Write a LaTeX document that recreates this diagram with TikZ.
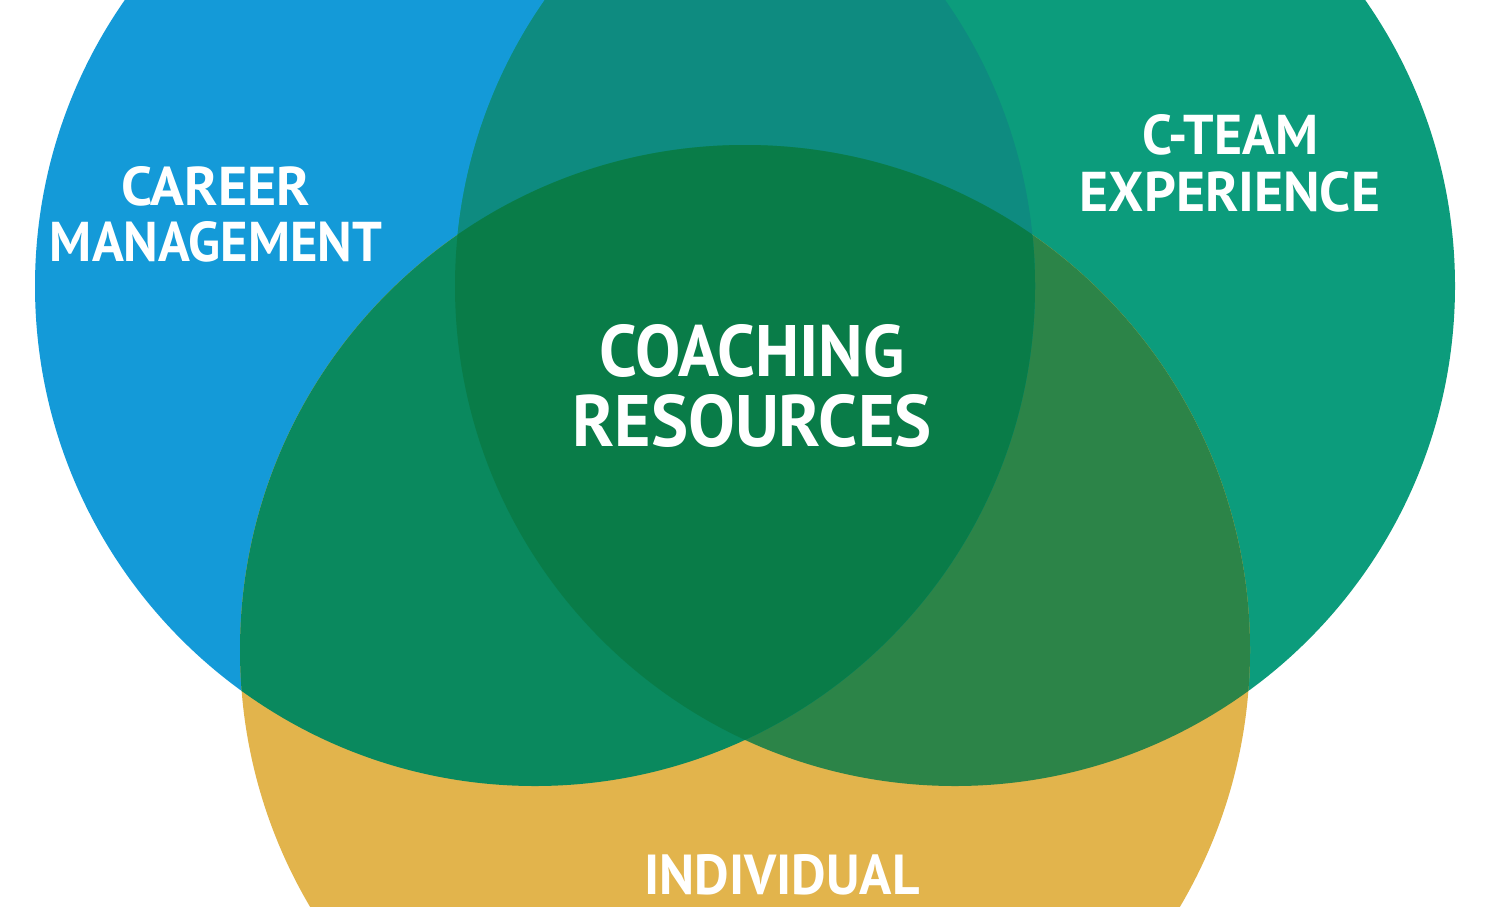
\documentclass[tikz,border=0pt]{standalone}
\usepackage{fontspec}
\setmainfont{PT Sans}
\usepackage{graphicx}
\definecolor{cblue}{RGB}{20,154,216}
\definecolor{cteal}{RGB}{12,156,124}
\definecolor{cyel}{RGB}{226,180,76}
\definecolor{cbt}{RGB}{14,139,128}
\definecolor{cby}{RGB}{10,137,94}
\definecolor{cty}{RGB}{44,132,72}
\definecolor{ctri}{RGB}{9,124,72}
\tikzset{
  lbl/.style={text=white, inner sep=0pt, anchor=center, font=\bfseries},
  rad/.style={radius=500pt},
  radb/.style={radius=505pt}
}
\newcommand{\fitlbl}[3]{\resizebox{#1pt}{#2pt}{#3}}
\begin{document}
\begin{tikzpicture}[x=1pt,y=-1pt]
\useasboundingbox (0,0) rectangle (1494,906);
\clip (0,0) rectangle (1494,906);
\fill[white] (0,0) rectangle (1494,906);
\coordinate (L) at (535,286);
\coordinate (R) at (955,286);
\coordinate (B) at (745,650);
% base circles
\fill[cblue] (L) circle[rad];
\fill[cteal] (R) circle[rad];
\fill[cyel] (B) circle[radb];
% right & bottom
\begin{scope}
  \clip (R) circle[rad];
  \fill[cty] (B) circle[radb];
\end{scope}
% left overlaps
\begin{scope}
  \clip (L) circle[rad];
  \fill[cbt] (R) circle[rad];
  \fill[cby] (B) circle[radb];
  \clip (R) circle[rad];
  \fill[ctri] (B) circle[radb];
\end{scope}
% labels
\node[lbl] (career) at (216,186) {\fitlbl{188}{39}{CAREER}};
\node[lbl] (mgmt) at (216,242) {\fitlbl{332}{40}{MANAGEMENT}};
\node[lbl] (cteam) at (1230,135) {\fitlbl{176}{40}{C-TEAM}};
\node[lbl] (exp) at (1230,192) {\fitlbl{300}{40}{EXPERIENCE}};
\node[lbl] (coach) at (752,351) {\fitlbl{305}{52}{COACHING}};
\node[lbl] (res) at (752,421) {\fitlbl{359}{52}{RESOURCES}};
\node[lbl] (ind) at (782,875) {\fitlbl{275}{40}{INDIVIDUAL}};
\end{tikzpicture}
\end{document}
